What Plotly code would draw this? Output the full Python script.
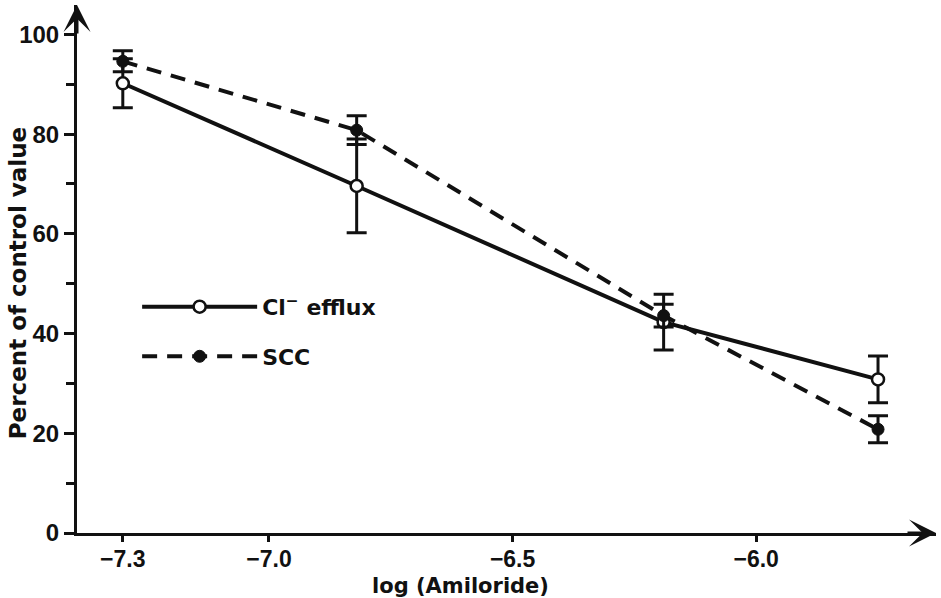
import plotly.graph_objects as go

# Data
log_amiloride = [-7.30, -6.82, -6.19, -5.75]
cl_efflux = [90.2, 69.6, 42.3, 30.8]
cl_efflux_err = [4.9, 9.4, 5.6, 4.7]
scc = [94.6, 80.8, 43.6, 20.8]
scc_err = [2.1, 2.9, 2.3, 2.7]

x_tickvals = [-7.3, -7.0, -6.5, -6.0]
x_ticktext = ["\u22127.3", "\u22127.0", "\u22126.5", "\u22126.0"]
y_tickvals = [0, 20, 40, 60, 80, 100]

FONT = "DejaVu Sans"
TICKFONT = "Liberation Sans"
BLACK = "#111111"

fig = go.Figure()

fig.add_trace(go.Scatter(
    x=log_amiloride, y=cl_efflux, name="Cl<sup>\u2212</sup> efflux",
    mode="lines+markers", legendgroup="a",
    line=dict(color=BLACK, width=4),
    marker=dict(symbol="circle", size=12, color="white",
                line=dict(color=BLACK, width=2.5)),
    error_y=dict(type="data", array=cl_efflux_err, visible=True,
                 color=BLACK, thickness=3, width=10),
))
fig.add_trace(go.Scatter(
    x=log_amiloride, y=scc, name="SCC",
    mode="lines+markers", legendgroup="b",
    line=dict(color=BLACK, width=4, dash="15px,10px"),
    marker=dict(symbol="circle", size=12, color=BLACK,
                line=dict(color=BLACK, width=1)),
    error_y=dict(type="data", array=scc_err, visible=True,
                 color=BLACK, thickness=3, width=10),
))

fig.update_layout(
    width=941, height=598,
    margin=dict(l=77, r=5, t=5, b=65),
    paper_bgcolor="white", plot_bgcolor="white",
    font=dict(family=FONT, color=BLACK, size=20, weight="bold"),
    showlegend=True,
    legend=dict(x=0.07, y=0.468, xanchor="left", yanchor="top",
                bgcolor="rgba(0,0,0,0)", itemwidth=115,
                tracegroupgap=18, traceorder="grouped",
                font=dict(family=FONT, size=22, color=BLACK, weight="bold")),
    xaxis=dict(range=[-7.394, -5.631], showgrid=False, zeroline=False,
               showline=True, linecolor=BLACK, linewidth=3,
               tickmode="array", tickvals=x_tickvals, ticktext=x_ticktext,
               ticks="outside", ticklen=6, tickwidth=3, tickcolor=BLACK,
               ticklabelstandoff=-3,
               tickfont=dict(family=TICKFONT, size=23, color=BLACK, weight="bold")),
    yaxis=dict(range=[0, 105.9], showgrid=False, zeroline=False,
               showline=True, linecolor=BLACK, linewidth=3,
               tickmode="array", tickvals=y_tickvals,
               ticks="outside", ticklen=10, tickwidth=3, tickcolor=BLACK,
               minor=dict(tickvals=[10, 30, 50, 70, 90], ticks="outside",
                          ticklen=8, tickwidth=3, tickcolor=BLACK),
               tickfont=dict(family=TICKFONT, size=24, color=BLACK, weight="bold")),
)

# axis titles
fig.add_annotation(text="log (Amiloride)", xref="paper", yref="paper",
                   x=0.446, y=0, yshift=-53, showarrow=False,
                   xanchor="center", yanchor="middle",
                   font=dict(family=FONT, size=21, color=BLACK, weight="bold"))
fig.add_annotation(text="Percent of control value", xref="paper", yref="paper",
                   x=0, xshift=-59, y=0.473, showarrow=False, textangle=-90,
                   xanchor="center", yanchor="middle",
                   font=dict(family=FONT, size=23, color=BLACK, weight="bold"))

# arrowheads on the axes
fig.add_annotation(xref="paper", yref="paper", x=0, y=1.0, ax=0, ay=30,
                   showarrow=True, arrowhead=3, arrowsize=1.5, arrowwidth=3,
                   arrowcolor=BLACK, text="", standoff=0)
fig.add_annotation(xref="paper", yref="paper", x=1.0, y=0, ax=-30, ay=0,
                   showarrow=True, arrowhead=3, arrowsize=1.5, arrowwidth=3,
                   arrowcolor=BLACK, text="", standoff=0)

fig.write_html("out.html")
